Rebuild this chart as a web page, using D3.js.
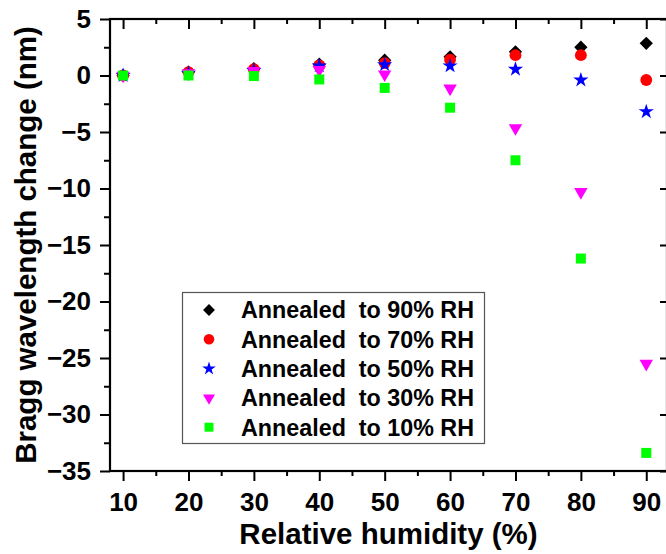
<!DOCTYPE html>
<html>
<head>
<meta charset="utf-8">
<script src="https://cdn.jsdelivr.net/npm/d3@7"></script>
<style>
  body { margin: 0; background: #fff; }
  svg text { font-family: "Liberation Sans", Arial, sans-serif; font-weight: bold; fill: #000; }
</style>
</head>
<body>
<div id="chart"></div>
<script>
// relative humidity (%)
let humidity = [10, 20, 30, 40, 50, 60, 70, 80, 90];

// Bragg wavelength change (nm), one array per annealing condition
let annealed90 = [0, 0.3, 0.6, 1.0, 1.35, 1.65, 2.1, 2.5, 2.85];
let annealed70 = [0, 0.3, 0.55, 0.9, 1.1, 1.4, 1.8, 1.8, -0.4];
let annealed50 = [0, 0.2, 0.45, 0.85, 0.95, 0.85, 0.55, -0.4, -3.2];
let annealed30 = [0, 0.2, 0.4, 0.5, 0.1, -1.15, -4.65, -10.3, -25.5];
let annealed10 = [0, 0, -0.05, -0.35, -1.1, -2.85, -7.5, -16.2, -33.4];

let seriesNames = ['Annealed  to 90% RH', 'Annealed  to 70% RH', 'Annealed  to 50% RH',
                   'Annealed  to 30% RH', 'Annealed  to 10% RH'];
let seriesValues = [annealed90, annealed70, annealed50, annealed30, annealed10];
let seriesColors = ['#000000', '#ff0000', '#0000ff', '#ff00ff', '#00ff00'];

let xTicks = [10, 20, 30, 40, 50, 60, 70, 80, 90];
let xMinor = [15, 25, 35, 45, 55, 65, 75, 85];
let yTicks = [-35, -30, -25, -20, -15, -10, -5, 0, 5];
let yMinor = [-32.5, -27.5, -22.5, -17.5, -12.5, -7.5, -2.5, 2.5];

let width = 666, height = 554;
let margin = { left: 110, top: 19, right: -1, bottom: 83 };

let svg = d3.select('#chart').append('svg')
            .attr('width', width)
            .attr('height', height);

let x = d3.scaleLinear()
          .domain([8, 93.17])
          .range([margin.left, width - margin.right]);

let y = d3.scaleLinear()
          .domain([-35, 5])
          .range([height - margin.bottom, margin.top]);

// symbol shapes
let shapes = [
  { type: d3.symbolSquare, size: 88, rotate: 45 },
  { type: d3.symbolCircle, size: 110, rotate: 0 },
  { type: d3.symbolStar, size: 72, rotate: 0 },
  { type: d3.symbolTriangle, size: 78, rotate: 180 },
  { type: d3.symbolSquare, size: 100, rotate: 0 }
];

function styleAxis(g) {
  g.select('.domain').remove();
  g.selectAll('.tick line').attr('stroke', '#000').attr('stroke-width', 2);
  g.selectAll('text').style('font-size', '26px');
}

// bottom axis
svg.append('g')
   .attr('transform', 'translate(0,' + y(-35) + ')')
   .call(d3.axisBottom(x).tickValues(xTicks).tickSize(10).tickPadding(12).tickSizeOuter(0))
   .call(styleAxis);
svg.append('g')
   .attr('transform', 'translate(0,' + y(-35) + ')')
   .call(d3.axisBottom(x).tickValues(xMinor).tickSize(5).tickFormat('').tickSizeOuter(0))
   .call(styleAxis);

// top axis, ticks inward
svg.append('g')
   .attr('transform', 'translate(0,' + y(5) + ')')
   .call(d3.axisTop(x).tickValues(xTicks).tickSize(-10).tickFormat('').tickSizeOuter(0))
   .call(styleAxis);
svg.append('g')
   .attr('transform', 'translate(0,' + y(5) + ')')
   .call(d3.axisTop(x).tickValues(xMinor).tickSize(-5).tickFormat('').tickSizeOuter(0))
   .call(styleAxis);

// left axis
svg.append('g')
   .attr('transform', 'translate(' + x(8) + ',0)')
   .call(d3.axisLeft(y).tickValues(yTicks).tickSize(10).tickPadding(9).tickSizeOuter(0))
   .call(styleAxis);
svg.append('g')
   .attr('transform', 'translate(' + x(8) + ',0)')
   .call(d3.axisLeft(y).tickValues(yMinor).tickSize(6).tickFormat('').tickSizeOuter(0))
   .call(styleAxis);

// right axis, ticks inward
svg.append('g')
   .attr('transform', 'translate(' + x(93.17) + ',0)')
   .call(d3.axisRight(y).tickValues(yTicks).tickSize(-7).tickFormat('').tickSizeOuter(0))
   .call(styleAxis);

// frame
svg.append('rect')
   .attr('x', x(8))
   .attr('y', y(5))
   .attr('width', x(93.17) - x(8))
   .attr('height', y(-35) - y(5))
   .attr('fill', 'none')
   .attr('stroke', '#000')
   .attr('stroke-width', 2.2);

// points
seriesValues.forEach(function(vals, i) {
  let sym = d3.symbol().type(shapes[i].type).size(shapes[i].size);
  svg.append('g')
     .selectAll('path')
     .data(vals)
     .enter()
     .append('path')
     .attr('d', sym)
     .attr('fill', seriesColors[i])
     .attr('transform', function(d, j) {
        return 'translate(' + x(humidity[j]) + ',' + y(d) + ') rotate(' + shapes[i].rotate + ')';
     });
});

// legend
let legend = svg.append('g');
legend.append('rect')
      .attr('x', 182.5)
      .attr('y', 292.5)
      .attr('width', 302)
      .attr('height', 151)
      .attr('fill', '#fff')
      .attr('stroke', '#555')
      .attr('stroke-width', 1.2);

seriesNames.forEach(function(name, i) {
  let rowY = 310 + i * 29.3;
  legend.append('path')
        .attr('d', d3.symbol().type(shapes[i].type).size(shapes[i].size * 0.8)())
        .attr('fill', seriesColors[i])
        .attr('transform', 'translate(209,' + rowY + ') rotate(' + shapes[i].rotate + ')');
  legend.append('text')
        .attr('x', 241)
        .attr('y', rowY)
        .attr('dy', '0.36em')
        .style('font-size', '23.3px')
        .style('white-space', 'pre')
        .text(name);
});

// axis titles
svg.append('text')
   .attr('x', (x(8) + x(93.17)) / 2)
   .attr('y', 544)
   .attr('text-anchor', 'middle')
   .style('font-size', '29.5px')
   .text('Relative humidity (%)');

svg.append('text')
   .attr('transform', 'translate(36,' + ((y(5) + y(-35)) / 2) + ') rotate(-90)')
   .attr('text-anchor', 'middle')
   .style('font-size', '29.5px')
   .text('Bragg wavelength change (nm)');
</script>
</body>
</html>
